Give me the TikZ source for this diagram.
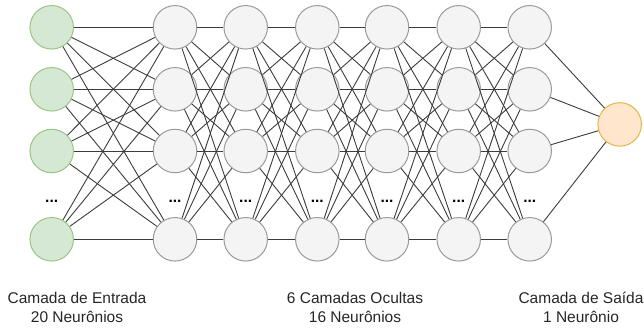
\documentclass[tikz,border=0pt]{standalone}
\usepackage{fontspec}
\setmainfont{Liberation Sans}
\definecolor{ingreen}{HTML}{D5E8D4}
\definecolor{ingreenline}{HTML}{9AC585}
\definecolor{hidfill}{HTML}{F4F4F4}
\definecolor{hidline}{HTML}{9A9A9A}
\definecolor{outfill}{HTML}{FFE6CC}
\definecolor{outline}{HTML}{E3B54A}
\definecolor{edgecol}{HTML}{3C3C3C}
\begin{document}
\begin{tikzpicture}[x=1pt,y=-1pt,
  neuron/.style={circle,minimum size=43.5pt,inner sep=0pt,line width=1pt},
  inneuron/.style={neuron,fill=ingreen,draw=ingreenline},
  hidneuron/.style={neuron,fill=hidfill,draw=hidline},
  outneuron/.style={neuron,fill=outfill,draw=outline},
  conn/.style={draw=edgecol,line width=0.9pt},
  dots/.style={font=\fontsize{15.5}{19}\selectfont\bfseries,inner sep=0pt},
  lbl/.style={font=\fontsize{15.5}{19}\selectfont,align=center,inner sep=0pt,text=black!85}
]
\useasboundingbox (0,0) rectangle (644,327);
% rows
\def\rowys{27.3,89.3,151,239.3}
% input layer
\foreach \y [count=\r] in \rowys {
  \node[inneuron] (L0-\r) at (51.7,\y) {};
}
% hidden layers
\foreach \x [count=\l] in {175,245.7,317.3,387,458.7,529.7} {
  \foreach \y [count=\r] in \rowys {
    \node[hidneuron] (L\l-\r) at (\x,\y) {};
  }
}
% output
\node[outneuron] (out) at (619.7,124.4) {};
% dots
\foreach \x [count=\l from 0] in {51.7,175,245.7,317.3,387,458.7,529.7} {
  \node[dots] (dots\l) at (\x,201) {...};
}
% connections
\foreach \l [evaluate=\l as \m using int(\l+1)] in {0,...,5} {
  \foreach \a in {1,...,4} {
    \foreach \b in {1,...,4} {
      \draw[conn] (L\l-\a) -- (L\m-\b);
    }
  }
}
\foreach \a in {1,...,4} {
  \draw[conn] (L6-\a) -- (out);
}
% labels
\node[lbl] (lblin) at (77,307.5) {Camada de Entrada\\20 Neurônios};
\node[lbl] (lblhid) at (355,307.5) {6 Camadas Ocultas\\16 Neurônios};
\node[lbl] (lblout) at (581,307.5) {Camada de Saída\\1 Neurônio};
\end{tikzpicture}
\end{document}
